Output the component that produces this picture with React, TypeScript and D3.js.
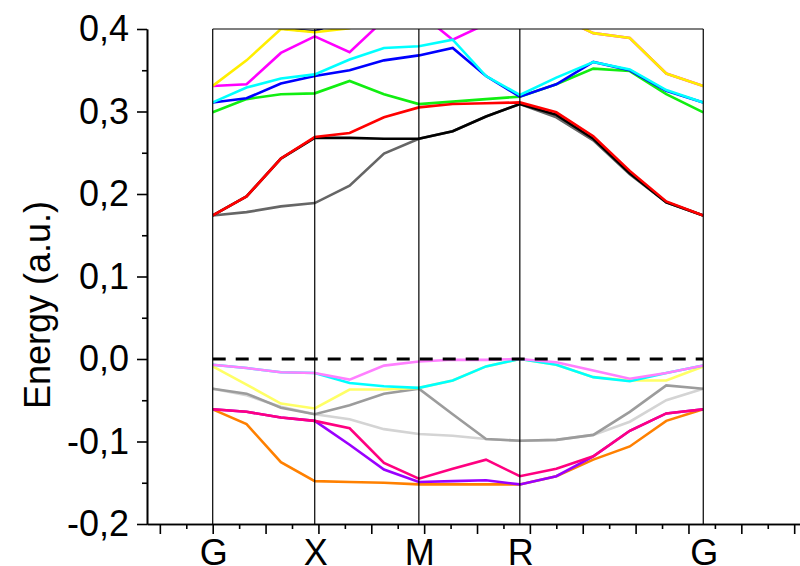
import React, { useRef, useEffect } from 'react';
import * as d3 from 'd3';

// k-path: distance of every calculated point along G-X-M-R-G
const kPoints = [0, 0.064, 0.129, 0.193, 0.259, 0.324, 0.39, 0.454, 0.517, 0.581, 0.65, 0.72, 0.789, 0.858, 0.928];
const symLabels = ['G', 'X', 'M', 'R', 'G'];
const symPositions = [0, 0.193, 0.39, 0.581, 0.928];

const yTicks = [-0.2, -0.1, 0, 0.1, 0.2, 0.3, 0.4];
const yMinorTicks = [-0.15, -0.05, 0.05, 0.15, 0.25, 0.35];
const xTicks = [-0.1, 0, 0.1, 0.2, 0.3, 0.4, 0.5, 0.6, 0.7, 0.8, 0.9, 1.0, 1.1];
const xMinorTicks = [-0.05, 0.05, 0.15, 0.25, 0.35, 0.45, 0.55, 0.65, 0.75, 0.85, 0.95, 1.05];

/* conduction bands */
const navyBand = [0.44, 0.43, 0.4005, 0.397, 0.415, 0.44, 0.45, 0.45, 0.45, 0.45, 0.45, 0.44, 0.44, 0.43, 0.42];
const magentaBand = [0.331, 0.333, 0.371, 0.391, 0.372, 0.411, 0.42, 0.387, 0.406, 0.43, 0.416, 0.395, 0.389, 0.346, 0.331];
const yellowBand = [0.331, 0.362, 0.4, 0.396, 0.401, 0.42, 0.44, 0.44, 0.44, 0.44, 0.416, 0.395, 0.389, 0.346, 0.331];
const greenBand = [0.299, 0.315, 0.321, 0.322, 0.337, 0.321, 0.309, 0.312, 0.315, 0.318, 0.333, 0.352, 0.349, 0.321, 0.299];
const blueBand = [0.311, 0.316, 0.334, 0.343, 0.35, 0.362, 0.368, 0.377, 0.343, 0.318, 0.333, 0.36, 0.35, 0.325, 0.311];
const cyanBand = [0.311, 0.329, 0.34, 0.345, 0.363, 0.377, 0.379, 0.387, 0.343, 0.32, 0.341, 0.36, 0.351, 0.326, 0.311];
const darkGrayBand = [0.174, 0.178, 0.185, 0.189, 0.21, 0.249, 0.267, 0.276, 0.294, 0.309, 0.293, 0.265, 0.224, 0.19, 0.174];
const blackBand = [0.174, 0.197, 0.243, 0.268, 0.268, 0.267, 0.267, 0.276, 0.294, 0.309, 0.296, 0.267, 0.225, 0.19, 0.174];
const redBand = [0.174, 0.197, 0.243, 0.269, 0.274, 0.293, 0.305, 0.309, 0.31, 0.311, 0.299, 0.27, 0.228, 0.191, 0.174];

/* valence bands */
const orangeBand = [-0.061, -0.079, -0.125, -0.148, -0.149, -0.15, -0.152, -0.152, -0.152, -0.152, -0.142, -0.122, -0.106, -0.075, -0.061];
const purpleBand = [-0.061, -0.064, -0.071, -0.075, -0.104, -0.134, -0.149, -0.148, -0.147, -0.152, -0.142, -0.118, -0.087, -0.066, -0.061];
const hotPinkBand = [-0.061, -0.064, -0.071, -0.075, -0.084, -0.126, -0.145, -0.133, -0.122, -0.142, -0.133, -0.118, -0.087, -0.066, -0.061];
const lightGrayBand = [-0.036, -0.044, -0.058, -0.067, -0.073, -0.085, -0.091, -0.093, -0.097, -0.099, -0.098, -0.092, -0.076, -0.05, -0.036];
const grayBand = [-0.036, -0.042, -0.059, -0.067, -0.056, -0.042, -0.036, -0.067, -0.097, -0.099, -0.098, -0.092, -0.064, -0.032, -0.036];
const lightYellowBand = [-0.009, -0.031, -0.054, -0.06, -0.037, -0.037, -0.035, -0.026, -0.009, 0, -0.007, -0.022, -0.026, -0.026, -0.009];
const cyanLowBand = [-0.007, -0.011, -0.016, -0.017, -0.029, -0.033, -0.035, -0.026, -0.009, 0, -0.007, -0.022, -0.027, -0.017, -0.008];
const pinkBand = [-0.007, -0.011, -0.016, -0.017, -0.025, -0.008, -0.003, -0.001, -0.001, 0, -0.004, -0.014, -0.024, -0.017, -0.008];

const FONT = "'Liberation Sans', Arial, sans-serif";

const App = () => {
    const svgRef = useRef(null);

    useEffect(() => {
        const svg = d3.select(svgRef.current);
        svg.selectAll('*').remove();

        const x = d3.scaleLinear().domain([-0.1243, 1.111]).range([147, 800]);
        const y = d3.scaleLinear().domain([-0.2, 0.4]).range([524, 29]);
        const fmt = d3.formatLocale({ decimal: ',', thousands: '.', grouping: [3], currency: ['', ''], minus: '-' }).format('.1f');

        const kStart = symPositions[0];
        const kEnd = symPositions[symPositions.length - 1];

        /* clip the bands to the frame */
        svg.append('defs').append('clipPath').attr('id', 'plot-clip')
            .append('rect')
            .attr('x', x(kStart)).attr('y', y(0.4))
            .attr('width', x(kEnd) - x(kStart)).attr('height', y(-0.2) - y(0.4));

        const bands = [
            { values: orangeBand, color: '#ff8000' },
            { values: purpleBand, color: '#9a00ff' },
            { values: hotPinkBand, color: '#ff0080' },
            { values: lightGrayBand, color: '#d4d4d4' },
            { values: grayBand, color: '#9c9c9c' },
            { values: lightYellowBand, color: '#ffff66' },
            { values: cyanLowBand, color: '#00ffff' },
            { values: pinkBand, color: '#ff80ff' },
            { values: navyBand, color: '#000080' },
            { values: magentaBand, color: '#ff00ff' },
            { values: yellowBand, color: '#ffee00' },
            { values: greenBand, color: '#11ee11' },
            { values: blueBand, color: '#0000ff' },
            { values: cyanBand, color: '#00ffff' },
            { values: darkGrayBand, color: '#666666' },
            { values: blackBand, color: '#000000' },
            { values: redBand, color: '#ff0000' },
        ];

        const line = d3.line<number>().x((_, i) => x(kPoints[i])).y(d => y(d));

        svg.append('g').attr('clip-path', 'url(#plot-clip)')
            .selectAll('path')
            .data(bands)
            .join('path')
            .attr('d', b => line(b.values))
            .attr('fill', 'none')
            .attr('stroke', b => b.color)
            .attr('stroke-width', 2.6);

        /* Fermi level */
        svg.append('line')
            .attr('x1', x(kStart)).attr('x2', x(kEnd))
            .attr('y1', y(0)).attr('y2', y(0))
            .attr('stroke', '#000').attr('stroke-width', 3)
            .attr('stroke-dasharray', '13,10');

        /* frame: top edge and high-symmetry lines */
        svg.append('line')
            .attr('x1', x(kStart)).attr('x2', x(kEnd))
            .attr('y1', y(0.4)).attr('y2', y(0.4))
            .attr('stroke', '#000').attr('stroke-width', 1.2);
        svg.append('g').selectAll('line')
            .data(symPositions)
            .join('line')
            .attr('x1', d => x(d)).attr('x2', d => x(d))
            .attr('y1', y(0.4)).attr('y2', y(-0.2))
            .attr('stroke', '#000').attr('stroke-width', 1.2);

        /* y axis */
        const yAxis = svg.append('g').attr('transform', 'translate(147,0)')
            .call(d3.axisLeft(y).tickValues(yTicks).tickFormat(d => fmt(d as number)).tickSize(10).tickSizeOuter(0).tickPadding(8));
        svg.append('g').attr('transform', 'translate(147,0)')
            .call(d3.axisLeft(y).tickValues(yMinorTicks).tickFormat(() => '').tickSize(5).tickSizeOuter(0));
        yAxis.selectAll('text').attr('font-size', 36).attr('font-family', FONT).attr('fill', '#000');

        /* x axis */
        svg.append('g').attr('transform', 'translate(0,524)')
            .call(d3.axisBottom(x).tickValues(xTicks).tickFormat(() => '').tickSize(10).tickSizeOuter(0));
        svg.append('g').attr('transform', 'translate(0,524)')
            .call(d3.axisBottom(x).tickValues(xMinorTicks).tickFormat(() => '').tickSize(5).tickSizeOuter(0));

        svg.selectAll('.domain').attr('stroke', '#000').attr('stroke-width', 1.6);
        svg.selectAll('.tick line').attr('stroke', '#000').attr('stroke-width', 1.6);

        svg.append('g').selectAll('text')
            .data(symLabels)
            .join('text')
            .attr('x', (_, i) => x(symPositions[i]) + 1)
            .attr('y', 565)
            .attr('text-anchor', 'middle')
            .attr('font-size', 36)
            .attr('font-family', FONT)
            .text(d => d);

        svg.append('text')
            .attr('transform', 'translate(50,305) rotate(-90)')
            .attr('text-anchor', 'middle')
            .attr('font-size', 36)
            .attr('font-family', FONT)
            .text('Energy (a.u.)');
    }, []);

    return (
        <svg ref={svgRef} width={800} height={566}
            style={{ position: 'absolute', left: 0, top: 0, background: '#fff' }} />
    );
};

export default App;
